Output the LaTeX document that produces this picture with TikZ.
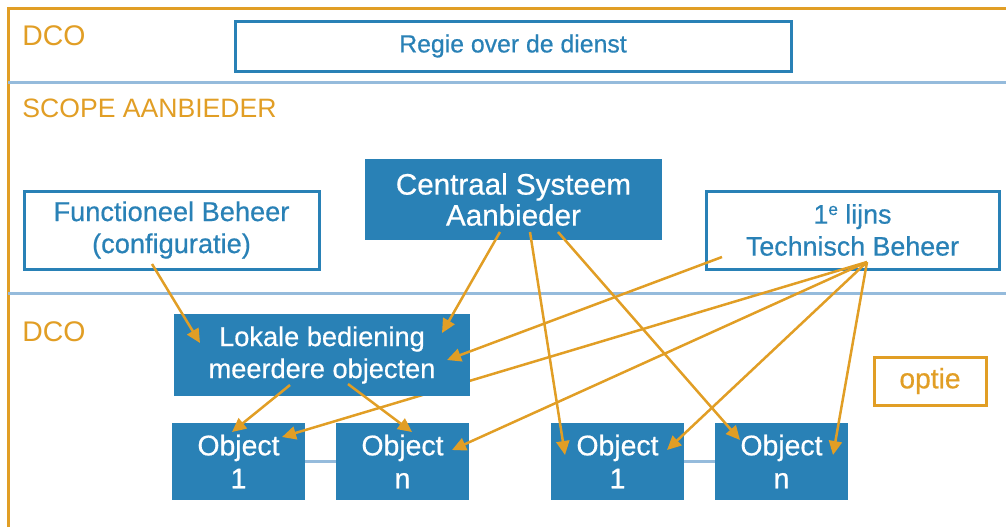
\documentclass[tikz,border=0pt]{standalone}
\usepackage{fontspec}
\setmainfont{Liberation Sans}
\newfontfamily\medfont{Liberation Sans}[FakeBold=0.6]
\usetikzlibrary{arrows.meta,backgrounds}
\definecolor{boxblue}{HTML}{2981B6}
\definecolor{lineblue}{HTML}{95BBDC}
\definecolor{dcoorange}{HTML}{E19E25}
\tikzset{
  openbox/.style={draw=boxblue, line width=1.5pt, text=boxblue, align=center, inner sep=0pt},
  fullbox/.style={fill=boxblue, text=white, align=center, inner sep=0pt},
  objbox/.style={fullbox, minimum width=66.5pt, minimum height=38.5pt, font=\medfont\fontsize{14.2}{16.5}\selectfont},
  sepline/.style={lineblue, line width=1.5pt},
  lbl/.style={text=dcoorange, anchor=west, inner sep=0pt},
  arr/.style={dcoorange, line width=1.25pt, -{Triangle[length=7pt,width=6.5pt]}}
}

\begin{document}
\begin{tikzpicture}[x=0.5pt,y=-0.5pt]
\useasboundingbox (0,0) rectangle (1006,527);
\begin{pgfonlayer}{background}
\draw [dcoorange, line width=1.5pt] (8,527) -- (8,8) -- (1006,8);
\draw [sepline] (8,82) -- (1006,82);
\draw [sepline] (8,293) -- (1006,293);
\end{pgfonlayer}
% labels
\node [lbl, font=\fontsize{14.2}{16}\selectfont] (dcotop) at (22,36) {DCO};
\node [lbl, font=\fontsize{13.3}{16}\selectfont] (scope) at (22,108) {SCOPE AANBIEDER};
\node [lbl, font=\fontsize{14.2}{16}\selectfont] (dcobot) at (22,332) {DCO};
% boxes
\node [openbox, minimum width=278pt, minimum height=25pt, font=\medfont\fontsize{12.4}{15}\selectfont] (regie) at (513,46) {Regie over de dienst};
\node [openbox, minimum width=147.5pt, minimum height=39pt, font=\medfont\fontsize{13.6}{16}\selectfont] (func) at (171.5,230) {Functioneel Beheer\\(configuratie)};
\node [fullbox, minimum width=148.5pt, minimum height=40.5pt, font=\medfont\fontsize{14.8}{15.5}\selectfont] (central) at (513.5,199.5) {Centraal Systeem\\Aanbieder};
\node [openbox, minimum width=146.5pt, minimum height=39pt, font=\medfont\fontsize{13.4}{16}\selectfont] (tech) at (852.5,230) {1{\fontsize{8.5}{9}\selectfont\raisebox{4.3pt}{e}} lijns\\Technisch Beheer};
\node [objbox] (obja) at (238.5,461.5) {Object\\1};
\node [objbox] (objna) at (402.5,461.5) {Object\\n};
\node [objbox] (objb) at (617.5,461.5) {Object\\1};
\node [objbox] (objnb) at (781.5,461.5) {Object\\n};
% this one runs behind the lokale box
\draw [arr] ([shift={(14.5,32)}]tech.center) -- ([shift={(43.5,-24.5)}]obja.center);
\node [fullbox, minimum width=148pt, minimum height=41pt, font=\medfont\fontsize{13.6}{16}\selectfont] (lokale) at (322,355) {Lokale bediening\\meerdere objecten};
\node [draw=dcoorange, line width=1.5pt, text=dcoorange, minimum width=56pt, minimum height=24pt, font=\medfont\fontsize{14.1}{16}\selectfont] (optie) at (930,381) {optie};
% links between objects
\begin{pgfonlayer}{background}
\draw [sepline] (obja) -- (objna);
\draw [sepline] (objb) -- (objnb);
\end{pgfonlayer}
% arrows
\draw [arr] ([shift={(-19.5,34)}]func.center) -- ([shift={(-122,-12)}]lokale.center);
\draw [arr] ([shift={(-13.5,32.5)}]central.center) -- ([shift={(120,-22)}]lokale.center);
\draw [arr] ([shift={(16.5,32.5)}]central.center) -- ([shift={(-52.5,-6.5)}]objb.center);
\draw [arr] ([shift={(44.5,32.5)}]central.center) -- ([shift={(-41.5,-21.5)}]objnb.center);
\draw [arr] ([shift={(-130.5,27)}]tech.center) -- ([shift={(125,5)}]lokale.center);
\draw [arr] ([shift={(14.5,32)}]tech.center) -- ([shift={(49.5,-11.5)}]objna.center);
\draw [arr] ([shift={(14.5,32)}]tech.center) -- ([shift={(49.5,-11.5)}]objb.center);
\draw [arr] ([shift={(14.5,32)}]tech.center) -- ([shift={(51.5,-6.5)}]objnb.center);
\draw [arr] ([shift={(-32,30)}]lokale.center) -- ([shift={(-6.5,-29.5)}]obja.center);
\draw [arr] ([shift={(26,29)}]lokale.center) -- ([shift={(9.5,-29.5)}]objna.center);
\end{tikzpicture}
\end{document}
